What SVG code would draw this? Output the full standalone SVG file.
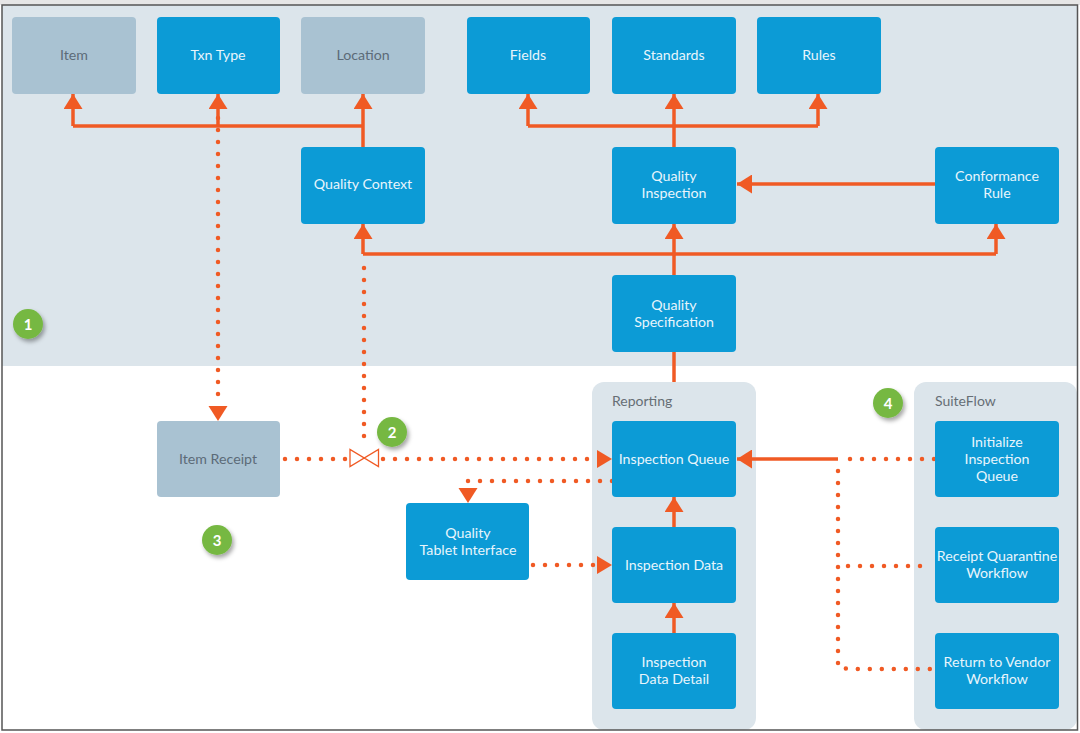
<svg xmlns="http://www.w3.org/2000/svg" width="1080" height="733" viewBox="0 0 1080 733">
<defs>
<style>
.bl{fill:#0c9bd6}
.gr{fill:#a9c2d2}
.tw{fill:#e8f5fc;font-family:Lato,"Liberation Sans",sans-serif;font-size:14.2px;text-anchor:middle}
.tg{fill:#5c6b78;font-family:Lato,"Liberation Sans",sans-serif;font-size:14.2px;text-anchor:middle}
.lbl{fill:#666e75;font-family:Lato,"Liberation Sans",sans-serif;font-size:14px}
.sol{fill:none;stroke:#f05a24;stroke-width:3.5}
.dot{fill:none;stroke:#f05a24;stroke-width:4.5;stroke-linecap:round;stroke-dasharray:0 12}
.bn{fill:#fff;font-family:Lato,"Liberation Sans",sans-serif;font-size:15px;font-weight:bold;text-anchor:middle}
</style>
<marker id="arr" markerUnits="userSpaceOnUse" viewBox="0 0 15 19" refX="15" refY="9.5" markerWidth="15" markerHeight="19" orient="auto">
<path d="M0,0 L15,9.5 L0,19 z" fill="#f05a24"/>
</marker>
<filter id="sh" x="-50%" y="-50%" width="200%" height="200%">
<feDropShadow dx="2" dy="3" stdDeviation="2" flood-color="#000" flood-opacity="0.35"/>
</filter>
</defs>
<rect x="0" y="0" width="1080" height="733" fill="#fff"/>
<rect x="0" y="0" width="1080" height="5" fill="#e6e6e6"/>
<rect x="2" y="5" width="1076" height="361" fill="#dce5eb"/>
<rect x="592" y="382" width="164" height="348" rx="12" fill="#dce5eb"/>
<rect x="914" y="382" width="163" height="348" rx="12" fill="#dce5eb"/>
<path d="M2,730 V5 H1077.5 V730 Z" fill="none" stroke="#555" stroke-width="1.5"/>
<text class="lbl" x="612" y="406">Reporting</text>
<text class="lbl" x="935" y="406">SuiteFlow</text>

<g id="connectors">
<path class="sol" d="M73,126 H363"/>
<path class="sol" d="M73,126 V94" marker-end="url(#arr)"/>
<path class="sol" d="M218,126 V94" marker-end="url(#arr)"/>
<path class="sol" d="M363,147 V94" marker-end="url(#arr)"/>
<path class="sol" d="M528,126 H818"/>
<path class="sol" d="M528,126 V94" marker-end="url(#arr)"/>
<path class="sol" d="M674,147 V94" marker-end="url(#arr)"/>
<path class="sol" d="M818,126 V94" marker-end="url(#arr)"/>
<path class="sol" d="M935,184 H737" marker-end="url(#arr)"/>
<path class="sol" d="M674,275 V224" marker-end="url(#arr)"/>
<path class="sol" d="M363,254 H996"/>
<path class="sol" d="M363,254 V224" marker-end="url(#arr)"/>
<path class="sol" d="M996,254 V224" marker-end="url(#arr)"/>
<path class="sol" d="M674,382 V352"/>
<path class="sol" d="M674,527 V497" marker-end="url(#arr)"/>
<path class="sol" d="M674,633 V603" marker-end="url(#arr)"/>
<path class="sol" d="M838,459 H737" marker-end="url(#arr)"/>
<path class="dot" d="M218,118 V406"/>
<path fill="#f05a24" d="M208.5,406 L227.5,406 L218,421 z"/>
<path class="dot" d="M364,268 V446"/>
<path class="dot" d="M285,459 H347"/>
<path d="M350,449.5 L350,466.5 L378.5,449.5 L378.5,466.5 Z" fill="#fff" stroke="#f05a24" stroke-width="1.3" stroke-linejoin="miter"/>
<path class="dot" d="M383,459 H596"/>
<path fill="#f05a24" d="M597,450 L612,459 L597,468 z"/>
<path class="dot" d="M612,481 H468 V485"/>
<path fill="#f05a24" d="M458.5,488 L477.5,488 L468,503 z"/>
<path class="dot" d="M533,565 H596"/>
<path fill="#f05a24" d="M597,556 L612,565 L597,574 z"/>
<path class="dot" d="M934,459 H848"/>
<path class="dot" d="M838,471 V667 L848,669 H932"/>
<path class="dot" d="M848,566 H932"/>
</g>

<g id="item"><rect class="gr" x="12" y="17" width="124" height="77" rx="4"/><text class="tg" x="74" y="60">Item</text></g>
<g id="txn-type"><rect class="bl" x="157" y="17" width="123" height="77" rx="4"/><text class="tw" x="218" y="60">Txn Type</text></g>
<g id="location"><rect class="gr" x="301" y="17" width="124" height="77" rx="4"/><text class="tg" x="363" y="60">Location</text></g>
<g id="fields"><rect class="bl" x="467" y="17" width="123" height="77" rx="4"/><text class="tw" x="528" y="60">Fields</text></g>
<g id="standards"><rect class="bl" x="612" y="17" width="124" height="77" rx="4"/><text class="tw" x="674" y="60">Standards</text></g>
<g id="rules"><rect class="bl" x="757" y="17" width="124" height="77" rx="4"/><text class="tw" x="819" y="60">Rules</text></g>
<g id="quality-context"><rect class="bl" x="301" y="147" width="124" height="77" rx="4"/><text class="tw" x="363" y="189">Quality Context</text></g>
<g id="quality-inspection"><rect class="bl" x="612" y="147" width="124" height="77" rx="4"/><text class="tw" x="674" y="181">Quality</text><text class="tw" x="674" y="198">Inspection</text></g>
<g id="conformance-rule"><rect class="bl" x="935" y="147" width="124" height="77" rx="4"/><text class="tw" x="997" y="181">Conformance</text><text class="tw" x="997" y="198">Rule</text></g>
<g id="quality-specification"><rect class="bl" x="612" y="275" width="124" height="77" rx="4"/><text class="tw" x="674" y="310">Quality</text><text class="tw" x="674" y="327">Specification</text></g>
<g id="item-receipt"><rect class="gr" x="157" y="421" width="123" height="76" rx="4"/><text class="tg" x="218" y="464">Item Receipt</text></g>
<g id="quality-tablet-interface"><rect class="bl" x="406" y="503" width="123" height="77" rx="4"/><text class="tw" x="468" y="538">Quality</text><text class="tw" x="468" y="555">Tablet Interface</text></g>
<g id="inspection-queue"><rect class="bl" x="612" y="421" width="124" height="76" rx="4"/><text class="tw" x="674" y="464">Inspection Queue</text></g>
<g id="inspection-data"><rect class="bl" x="612" y="527" width="124" height="76" rx="4"/><text class="tw" x="674" y="570">Inspection Data</text></g>
<g id="inspection-data-detail"><rect class="bl" x="612" y="633" width="124" height="76" rx="4"/><text class="tw" x="674" y="667">Inspection</text><text class="tw" x="674" y="684">Data Detail</text></g>
<g id="initialize-inspection-queue"><rect class="bl" x="935" y="421" width="124" height="76" rx="4"/><text class="tw" x="997" y="447">Initialize</text><text class="tw" x="997" y="464">Inspection</text><text class="tw" x="997" y="481">Queue</text></g>
<g id="receipt-quarantine-workflow"><rect class="bl" x="935" y="527" width="124" height="76" rx="4"/><text class="tw" x="997" y="561">Receipt Quarantine</text><text class="tw" x="997" y="578">Workflow</text></g>
<g id="return-to-vendor-workflow"><rect class="bl" x="935" y="633" width="124" height="76" rx="4"/><text class="tw" x="997" y="667">Return to Vendor</text><text class="tw" x="997" y="684">Workflow</text></g>

<g id="badge-1"><circle cx="28" cy="324" r="15" fill="#76b843" filter="url(#sh)"/><text class="bn" x="28" y="329.5">1</text></g>
<g id="badge-2"><circle cx="392" cy="432" r="15" fill="#76b843" filter="url(#sh)"/><text class="bn" x="392" y="437.5">2</text></g>
<g id="badge-3"><circle cx="217" cy="540" r="15" fill="#76b843" filter="url(#sh)"/><text class="bn" x="217" y="545.5">3</text></g>
<g id="badge-4"><circle cx="888" cy="403" r="15" fill="#76b843" filter="url(#sh)"/><text class="bn" x="888" y="408.5">4</text></g>
</svg>
